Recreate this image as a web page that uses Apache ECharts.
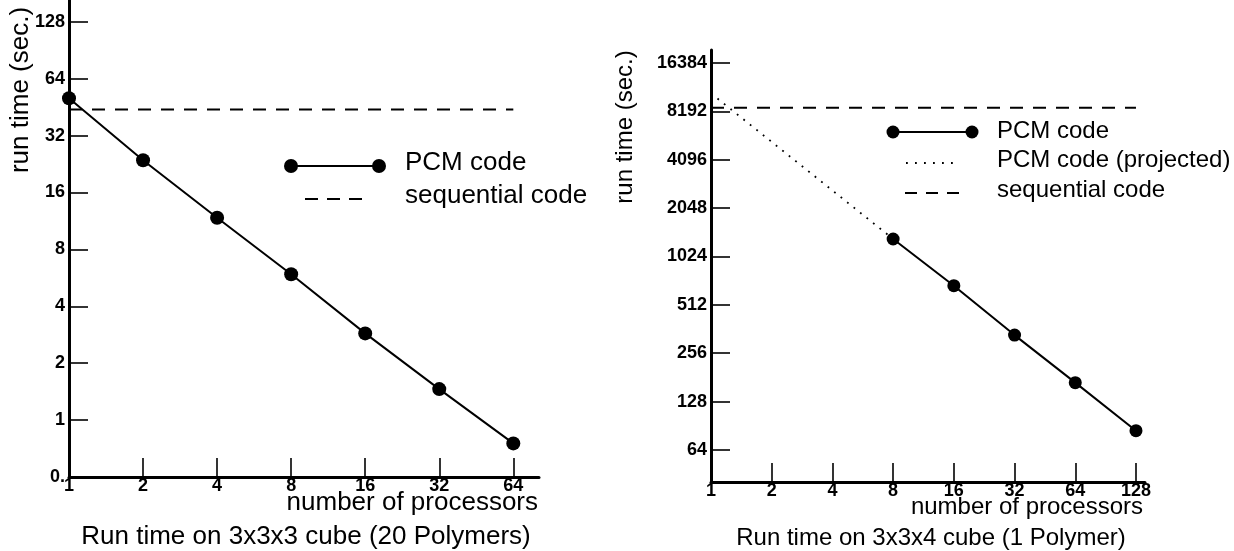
<!DOCTYPE html>
<html>
<head>
<meta charset="utf-8">
<script src="https://cdn.jsdelivr.net/npm/echarts@6/dist/echarts.min.js"></script>
<style>
html,body{margin:0;padding:0;background:#fff;}
#c{width:1234px;height:551px;}
</style>
</head>
<body>
<div id="c"></div>
<script>
// ---------- data ----------
const procLeft = [1, 2, 4, 8, 16, 32, 64];
const pcmLeft = [50.4, 23.7, 11.76, 5.91, 2.876, 1.459, 0.753];
const seqLeft = 44.0;
const yTicksLeft = [0.5, 1, 2, 4, 8, 16, 32, 64, 128];
const yTickLabelsLeft = ['0.', '1', '2', '4', '8', '16', '32', '64', '128'];

const procRight = [8, 16, 32, 64, 128];
const pcmRight = [1316, 674, 332, 168, 84.4];
const projProcRight = [1, 8];
const projRight = [10600, 1316];
const seqRight = 8634;
const xTicksRight = [1, 2, 4, 8, 16, 32, 64, 128];
const yTicksRight = [64, 128, 256, 512, 1024, 2048, 4096, 8192, 16384];

const titleLeft = 'Run time on 3x3x3 cube (20 Polymers)';
const titleRight = 'Run time on 3x3x4 cube (1 Polymer)';
const xName = 'number of processors';
const yName = 'run time (sec.)';
const legendPCM = 'PCM code';
const legendProj = 'PCM code (projected)';
const legendSeq = 'sequential code';

// ---------- chart ----------
const FF = '"Liberation Sans", Arial, sans-serif';
const chart = echarts.init(document.getElementById('c'), null, {renderer: 'canvas'});

function pick(ticks, labels, v) {
  let best = 0, bd = Infinity;
  ticks.forEach((t, i) => { const d = Math.abs(Math.log2(t) - Math.log2(v)); if (d < bd) { bd = d; best = i; } });
  return labels ? labels[best] : String(ticks[best]);
}

function axisCommon(ticks, labels, tickLen, margin, fs) {
  return {
    axisLine: {show: true, lineStyle: {color: '#000', width: 3}},
    axisTick: {show: true, inside: true, length: tickLen, customValues: ticks, lineStyle: {color: '#000', width: 1.6}},
    axisLabel: {show: true, customValues: ticks, margin: margin, color: '#000', fontWeight: 'bold', fontSize: fs, fontFamily: FF,
      formatter: v => pick(ticks, labels, v)},
    splitLine: {show: false},
    minorTick: {show: false},
    minorSplitLine: {show: false}
  };
}

const option = {
  animation: false,
  backgroundColor: '#fff',
  grid: [
    {left: 69, top: 0, width: 470, height: 477, containLabel: false, outerBoundsMode: 'none'},
    {left: 711, top: 50, width: 434, height: 432, containLabel: false, outerBoundsMode: 'none'}
  ],
  xAxis: [
    Object.assign({type: 'log', logBase: 2, gridIndex: 0, min: 1, max: 81.4}, axisCommon(procLeft, null, 19, 0, 18)),
    Object.assign({type: 'log', logBase: 2, gridIndex: 1, min: 1, max: 141.9}, axisCommon(xTicksRight, null, 19, 0, 18))
  ],
  yAxis: [
    Object.assign({type: 'log', logBase: 2, gridIndex: 0, min: 0.5, max: 166.9}, axisCommon(yTicksLeft, yTickLabelsLeft, 19, 4, 18)),
    Object.assign({type: 'log', logBase: 2, gridIndex: 1, min: 40.45, max: 19740}, axisCommon(yTicksRight, null, 19, 4, 18))
  ],
  series: [
    {type: 'line', xAxisIndex: 0, yAxisIndex: 0, name: legendSeq,
      data: [[procLeft[0], seqLeft], [procLeft[procLeft.length - 1], seqLeft]],
      symbol: 'none', lineStyle: {color: '#000', width: 2, type: [13, 10]}, z: 3},
    {type: 'line', xAxisIndex: 0, yAxisIndex: 0, name: legendPCM,
      data: procLeft.map((p, i) => [p, pcmLeft[i]]),
      symbol: 'circle', symbolSize: 14, itemStyle: {color: '#000'},
      lineStyle: {color: '#000', width: 2}, z: 4},
    {type: 'line', xAxisIndex: 1, yAxisIndex: 1, name: legendSeq,
      data: [[xTicksRight[0], seqRight], [xTicksRight[xTicksRight.length - 1], seqRight]],
      symbol: 'none', lineStyle: {color: '#000', width: 2, type: [13, 10]}, z: 3},
    {type: 'line', xAxisIndex: 1, yAxisIndex: 1, name: legendProj,
      data: projProcRight.map((p, i) => [p, projRight[i]]),
      symbol: 'none', lineStyle: {color: '#000', width: 1.8, type: [1.8, 6.5]}, z: 3},
    {type: 'line', xAxisIndex: 1, yAxisIndex: 1, name: legendPCM,
      data: procRight.map((p, i) => [p, pcmRight[i]]),
      symbol: 'circle', symbolSize: 13, itemStyle: {color: '#000'},
      lineStyle: {color: '#000', width: 2}, z: 4}
  ],
  graphic: [
    // axis names & titles
    {type: 'text', x: 21, y: 90, rotation: Math.PI / 2, style: {text: yName, font: '26px ' + FF, fill: '#000', textAlign: 'center', textVerticalAlign: 'middle'}},
    {type: 'text', x: 625, y: 127, rotation: Math.PI / 2, style: {text: yName, font: '24px ' + FF, fill: '#000', textAlign: 'center', textVerticalAlign: 'middle'}},
    {type: 'text', x: 538, y: 503, style: {text: xName, font: '26px ' + FF, fill: '#000', textAlign: 'right', textVerticalAlign: 'middle'}},
    {type: 'text', x: 1143, y: 507, style: {text: xName, font: '24px ' + FF, fill: '#000', textAlign: 'right', textVerticalAlign: 'middle'}},
    {type: 'text', x: 306, y: 537, style: {text: titleLeft, font: '26px ' + FF, fill: '#000', textAlign: 'center', textVerticalAlign: 'middle'}},
    {type: 'text', x: 931, y: 538, style: {text: titleRight, font: '24px ' + FF, fill: '#000', textAlign: 'center', textVerticalAlign: 'middle'}},
    // left legend
    {type: 'line', shape: {x1: 291, y1: 166, x2: 379, y2: 166}, style: {stroke: '#000', lineWidth: 2}},
    {type: 'circle', shape: {cx: 291, cy: 166, r: 7}, style: {fill: '#000'}},
    {type: 'circle', shape: {cx: 379, cy: 166, r: 7}, style: {fill: '#000'}},
    {type: 'text', x: 405, y: 163, style: {text: legendPCM, font: '26px ' + FF, fill: '#000', textAlign: 'left', textVerticalAlign: 'middle'}},
    {type: 'line', shape: {x1: 305, y1: 199, x2: 362, y2: 199}, style: {stroke: '#000', lineWidth: 2, lineDash: [13, 9]}},
    {type: 'text', x: 405, y: 196, style: {text: legendSeq, font: '26px ' + FF, fill: '#000', textAlign: 'left', textVerticalAlign: 'middle'}},
    // right legend
    {type: 'line', shape: {x1: 893, y1: 132, x2: 972, y2: 132}, style: {stroke: '#000', lineWidth: 2}},
    {type: 'circle', shape: {cx: 893, cy: 132, r: 6.5}, style: {fill: '#000'}},
    {type: 'circle', shape: {cx: 972, cy: 132, r: 6.5}, style: {fill: '#000'}},
    {type: 'text', x: 997, y: 131, style: {text: legendPCM, font: '24px ' + FF, fill: '#000', textAlign: 'left', textVerticalAlign: 'middle'}},
    {type: 'line', shape: {x1: 906, y1: 163, x2: 960, y2: 163}, style: {stroke: '#000', lineWidth: 1.8, lineDash: [1.8, 7.2]}},
    {type: 'text', x: 997, y: 160, style: {text: legendProj, font: '24px ' + FF, fill: '#000', textAlign: 'left', textVerticalAlign: 'middle'}},
    {type: 'line', shape: {x1: 905, y1: 193, x2: 960, y2: 193}, style: {stroke: '#000', lineWidth: 2, lineDash: [12, 9]}},
    {type: 'text', x: 997, y: 190, style: {text: legendSeq, font: '24px ' + FF, fill: '#000', textAlign: 'left', textVerticalAlign: 'middle'}}
  ]
};
chart.setOption(option);
</script>
</body>
</html>
